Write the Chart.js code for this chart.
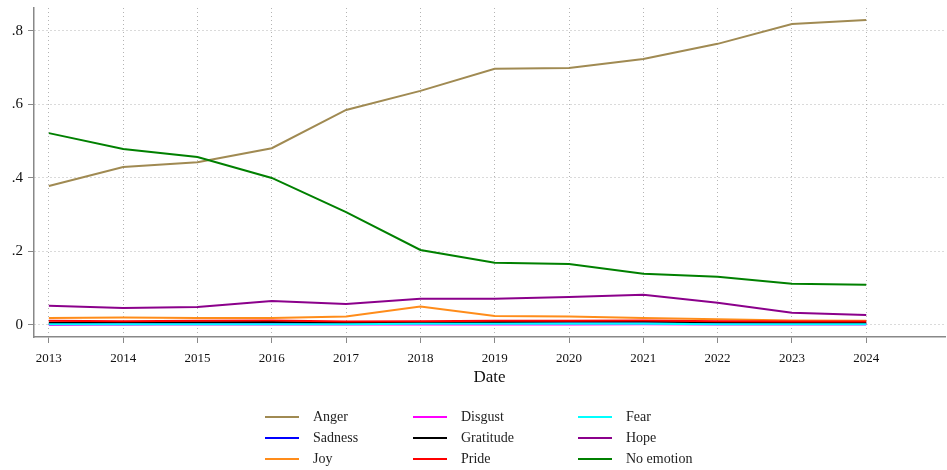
<!DOCTYPE html>
<html>
<head>
<meta charset="utf-8">
<script src="https://cdn.jsdelivr.net/npm/chart.js@4/dist/chart.umd.min.js"></script>
<style>
html,body{margin:0;padding:0;background:#fff;}
#wrap{position:relative;width:947px;height:470px;}
</style>
</head>
<body>
<div id="wrap"><canvas id="c" width="947" height="470"></canvas></div>
<script>
const years = [2013,2014,2015,2016,2017,2018,2019,2020,2021,2022,2023,2024];
const yTickValues = [0,0.2,0.4,0.6,0.8];
const yTickLabels = ['0','.2','.4','.6','.8'];
const seriesNames = ['Anger','Sadness','Joy','Disgust','Gratitude','Pride','Fear','Hope','No emotion'];
const anger     = [0.378,0.430,0.443,0.481,0.585,0.637,0.697,0.699,0.724,0.765,0.819,0.830];
const sadness   = [0.003,0.002,0.003,0.004,0.004,0.006,0.004,0.004,0.004,0.003,0.003,0.003];
const joy       = [0.019,0.020,0.019,0.019,0.023,0.050,0.024,0.023,0.019,0.015,0.012,0.011];
const disgust   = [0.000,0.001,0.001,0.001,0.001,0.001,0.001,0.001,0.002,0.001,0.001,0.001];
const gratitude = [0.006,0.007,0.007,0.008,0.006,0.006,0.008,0.009,0.009,0.007,0.006,0.006];
const pride     = [0.011,0.010,0.011,0.012,0.009,0.010,0.011,0.011,0.012,0.010,0.009,0.009];
const fear      = [0.002,0.002,0.002,0.002,0.002,0.003,0.003,0.003,0.003,0.002,0.002,0.002];
const hope      = [0.052,0.046,0.049,0.065,0.057,0.071,0.071,0.076,0.082,0.060,0.033,0.027];
const noEmotion = [0.522,0.479,0.457,0.400,0.307,0.204,0.169,0.166,0.139,0.131,0.112,0.109];

const seriesValues = [anger,sadness,joy,disgust,gratitude,pride,fear,hope,noEmotion];
const seriesColors = ['#a08a52','#0000ff','#ff8c1a','#ff00ff','#000000','#ff0000','#00ffff','#8b008b','#008000'];

const FONT = "'Liberation Serif','DejaVu Serif',serif";

const datasets = seriesNames.map((name,i)=>({
  label:name,
  data: years.map((y,j)=>({x:y,y:seriesValues[i][j]})),
  borderColor: seriesColors[i],
  backgroundColor: seriesColors[i],
  borderWidth: 2,
  pointRadius: 0,
  tension: 0,
  fill: false,
  order: seriesNames.length - i
}));

// Legend laid out in 3 columns, filled column-wise
const legendPlugin = {
  id:'gridLegend',
  afterDraw(chart){
    const ctx = chart.ctx;
    const colX = [265,413,578];
    const rowY = [417,438,459];
    ctx.save();
    ctx.font = "14px " + FONT;
    ctx.textBaseline = 'middle';
    chart.data.datasets.forEach((ds,i)=>{
      const col = Math.floor(i/3), row = i%3;
      const x = colX[col], y = rowY[row];
      ctx.strokeStyle = ds.borderColor;
      ctx.lineWidth = 2;
      ctx.beginPath(); ctx.moveTo(x,y); ctx.lineTo(x+34,y); ctx.stroke();
      ctx.fillStyle = '#222';
      ctx.fillText(ds.label, x+48, y);
    });
    ctx.restore();
  }
};

const gridOpts = {
  color:'#b4b4b4',
  lineWidth:1,
  drawTicks:true,
  tickLength:6,
  tickColor:'#888',
  tickBorderDash:[],
  tickWidth:1
};

new Chart(document.getElementById('c'),{
  type:'line',
  data:{datasets},
  plugins:[legendPlugin],
  options:{
    responsive:false,
    animation:false,
    layout:{padding:{top:8,right:2,left:0,bottom:0}},
    plugins:{legend:{display:false},tooltip:{enabled:false}},
    scales:{
      x:{
        type:'linear',
        min:2012.8,
        max:2025.06,
        afterBuildTicks(s){ s.ticks = years.map(v=>({value:v})); },
        afterFit(s){ s.height = 133; s.paddingLeft = 0; s.paddingRight = 0; },
        ticks:{
          callback:v=>String(v),
          font:{family:FONT,size:13},
          color:'#111',
          maxRotation:0,
          autoSkip:false,
          padding:8
        },
        grid:gridOpts,
        border:{display:true,color:'#888',width:1.5,dash:[1,3]},
        title:{display:true,text:'Date',font:{family:FONT,size:17},color:'#111',padding:{top:0,bottom:82}}
      },
      y:{
        min:-0.033,
        max:0.8626,
        afterBuildTicks(s){ s.ticks = yTickValues.map(v=>({value:v})); },
        afterFit(s){ s.width = 34; s.paddingTop = 0; s.paddingBottom = 0; },
        ticks:{
          callback:(v)=>{ const k = yTickValues.findIndex(t=>Math.abs(t-v)<1e-9); return k>=0?yTickLabels[k]:''; },
          font:{family:FONT,size:15},
          color:'#111',
          padding:5
        },
        grid:gridOpts,
        border:{display:true,color:'#888',width:1.5,dash:[1,3]}
      }
    }
  }
});
</script>
</body>
</html>
